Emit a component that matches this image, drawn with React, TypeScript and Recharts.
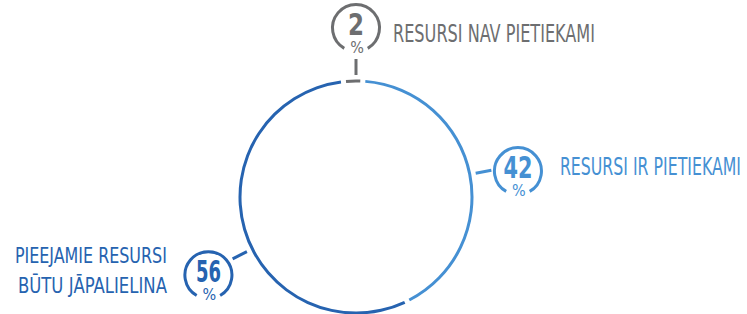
import { PieChart, Pie, Cell } from 'recharts';

// resursu pietiekamība, %
const categories = ['RESURSI NAV PIETIEKAMI', 'RESURSI IR PIETIEKAMI', 'PIEEJAMIE RESURSI BŪTU JĀPALIELINA'];
const shares = [2, 42, 56];
const labelLines = [
  ['RESURSI NAV PIETIEKAMI'],
  ['RESURSI IR PIETIEKAMI'],
  ['PIEEJAMIE RESURSI', 'BŪTU JĀPALIELINA'],
];
const colors = ['#6d6e70', '#4590d3', '#2663b0'];

const data = categories.map((name, i) => ({ name, value: shares[i] }));

const FONT = "'Liberation Sans Narrow', 'DejaVu Sans Condensed', 'Roboto', sans-serif";
const RING_R = 116;

// where each callout sits around the ring (angle in degrees, counter-clockwise from 3 o'clock)
const callouts = [
  { angle: 90, dist: 169, lineAngle: 90, textDx: 37, textDy: [14], anchor: 'start', fs: 24, widths: [202], numW: 16 },
  { angle: 9.1, dist: 164, lineAngle: 11.2, textDx: 42, textDy: [4], anchor: 'start', fs: 24, widths: [181], numW: 29 },
  { angle: -152.1, dist: 167, lineAngle: -153.4, textDx: -41.5, textDy: [-12, 18], anchor: 'end', fs: 22, widths: [152, 149], numW: 25 },
];

const polar = (cx: number, cy: number, r: number, deg: number) => {
  const a = (deg * Math.PI) / 180;
  return { x: cx + r * Math.cos(a), y: cy - r * Math.sin(a) };
};

function renderCallout(props: any) {
  const { cx, cy, index } = props;
  const c = callouts[index];
  const color = colors[index];
  const center = polar(cx, cy, c.dist, c.angle);
  const l1 = polar(cx, cy, RING_R + 6, c.lineAngle);
  const l2 = polar(cx, cy, RING_R + 22, c.lineAngle);
  const r = 23.5;
  // open ring, gap at the bottom for the % sign
  const p1 = { x: center.x + r * Math.sin(Math.PI / 6), y: center.y + r * Math.cos(Math.PI / 6) };
  const p2 = { x: center.x - r * Math.sin(Math.PI / 6), y: center.y + r * Math.cos(Math.PI / 6) };
  return (
    <g key={'callout-' + index}>
      <line x1={l1.x} y1={l1.y} x2={l2.x} y2={l2.y} stroke={color} strokeWidth={3} />
      <path
        d={`M${p1.x},${p1.y} A${r},${r} 0 1 0 ${p2.x},${p2.y}`}
        fill="none"
        stroke={color}
        strokeWidth={3}
      />
      <text
        x={center.x}
        y={center.y + 7}
        textAnchor="middle"
        fontFamily={FONT}
        fontWeight="bold"
        fontSize={30}
        fill={color}
        textLength={c.numW}
        lengthAdjust="spacingAndGlyphs"
      >
        {shares[index]}
      </text>
      <text x={center.x + 1} y={center.y + 25} textAnchor="middle" fontFamily={FONT} fontSize={16} fill={color}>
        %
      </text>
      {labelLines[index].map((ln, j) => (
        <text
          key={j}
          x={center.x + c.textDx}
          y={center.y + c.textDy[j]}
          textAnchor={c.anchor as any}
          fontFamily={FONT}
          fontSize={c.fs}
          fill={color}
          textLength={c.widths[j]}
          lengthAdjust="spacingAndGlyphs"
        >
          {ln}
        </text>
      ))}
    </g>
  );
}

export default function App() {
  const start = 94.94;
  return (
    <div style={{ position: 'absolute', left: 0, top: 0, background: '#fff' }}>
      <PieChart width={747} height={314} margin={{ top: 0, right: 0, bottom: 0, left: 0 }}>
        <Pie
          data={data}
          dataKey="value"
          nameKey="name"
          cx={356}
          cy={197}
          innerRadius={RING_R - 1.5}
          outerRadius={RING_R + 1.5}
          startAngle={start}
          endAngle={start - 360}
          paddingAngle={2.5}
          minAngle={3}
          stroke="none"
          label={renderCallout}
          labelLine={false}
          isAnimationActive={false}
        >
          {data.map((d, i) => (
            <Cell key={d.name} fill={colors[i]} />
          ))}
        </Pie>
      </PieChart>
    </div>
  );
}
